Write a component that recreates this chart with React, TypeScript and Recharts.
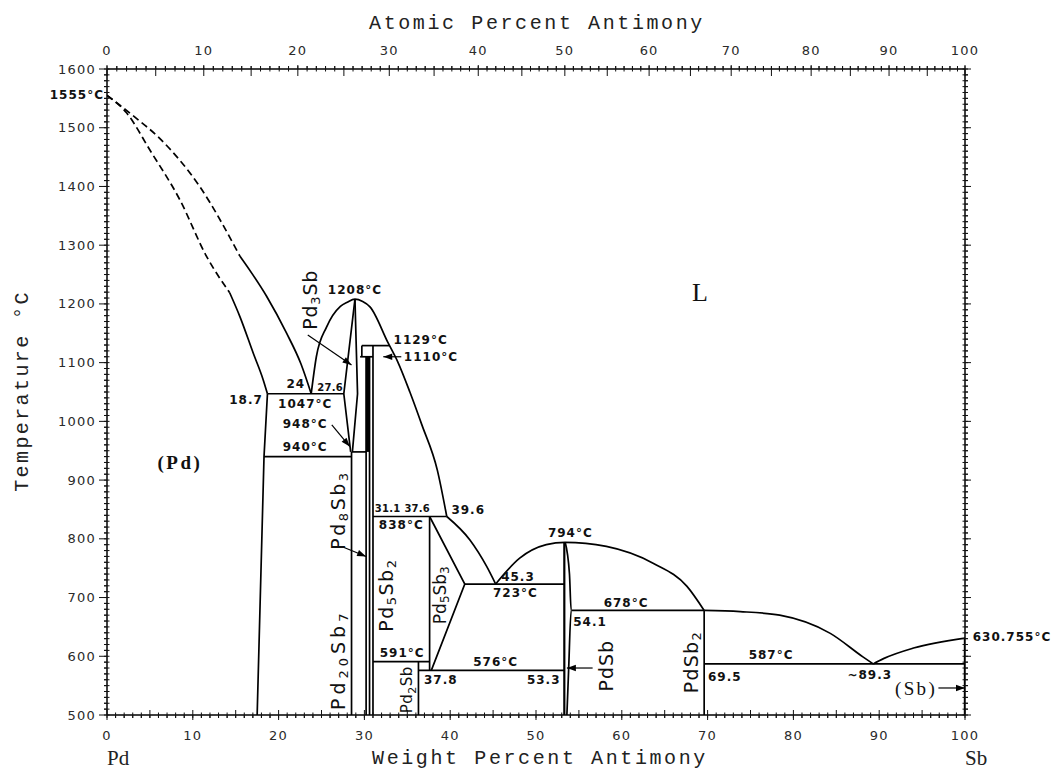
import React from 'react';
import { ComposedChart, Line, XAxis, YAxis, ReferenceDot } from 'recharts';

type Pt = { w: number; t: number };

const WIDTH = 1058;
const HEIGHT = 773;

// axes: weight % Sb below, atomic % Sb above, temperature °C at the sides
const WT_TICKS = Array.from({ length: 101 }, (_, i) => i);
const TEMP_TICKS = Array.from({ length: 111 }, (_, i) => 500 + i * 10);
const AT_PCT = Array.from({ length: 101 }, (_, i) => i);
const M_PD = 106.42;
const M_SB = 121.76;
const atToWt = (a: number) => (100 * a * M_SB) / (a * M_SB + (100 - a) * M_PD);
const AT_TICKS_WT = AT_PCT.map(atToWt);

// (Pd) side: liquidus / solidus, dashed near the Pd melting point
const pdLiquidusDashed: Pt[] = [
  { w: 0, t: 1555 }, { w: 3, t: 1521 }, { w: 6.2, t: 1481 }, { w: 10.8, t: 1400 }, { w: 15.5, t: 1281 },
];
const pdLiquidus: Pt[] = [
  { w: 15.5, t: 1281 }, { w: 18.6, t: 1213 }, { w: 20.9, t: 1151 }, { w: 22.6, t: 1098 }, { w: 23.8, t: 1047 },
];
const pdSolidusDashed: Pt[] = [
  { w: 0, t: 1555 }, { w: 2.3, t: 1525 }, { w: 5, t: 1462 }, { w: 8.5, t: 1377 }, { w: 11.6, t: 1281 }, { w: 14.3, t: 1219 },
];
const pdSolidus: Pt[] = [
  { w: 14.3, t: 1219 }, { w: 15.5, t: 1178 }, { w: 17.05, t: 1116 }, { w: 18.2, t: 1071 }, { w: 18.7, t: 1047 },
];
const pdSolvus: Pt[] = [{ w: 18.7, t: 1047 }, { w: 18.3, t: 940 }, { w: 17.5, t: 500 }];
const eut1047: Pt[] = [{ w: 18.7, t: 1047 }, { w: 27.6, t: 1047 }];
const eut940: Pt[] = [{ w: 18.3, t: 940 }, { w: 28.5, t: 940 }];

// Pd3Sb dome and the liquidus down to 838 °C
const pd3SbLiquidus: Pt[] = [
  { w: 23.8, t: 1047 }, { w: 24.4, t: 1110 }, { w: 25.6, t: 1161 }, { w: 27.2, t: 1196 }, { w: 28.0, t: 1203 },
  { w: 28.9, t: 1208 }, { w: 29.8, t: 1204 }, { w: 30.65, t: 1195 }, { w: 32.75, t: 1134 }, { w: 33.9, t: 1101 },
  { w: 35.3, t: 1050 }, { w: 36.7, t: 994 }, { w: 38.5, t: 917 }, { w: 39.6, t: 838 },
];
const pd3SbLeft: Pt[] = [{ w: 28.9, t: 1208 }, { w: 27.6, t: 1047 }, { w: 28.4, t: 948 }];
const pd3SbRight: Pt[] = [{ w: 28.9, t: 1208 }, { w: 29.2, t: 1047 }, { w: 28.6, t: 948 }];
const per1129: Pt[] = [{ w: 29.7, t: 1129 }, { w: 32.9, t: 1129 }];
const step1129: Pt[] = [{ w: 29.7, t: 1129 }, { w: 29.7, t: 1110 }];
const per1110: Pt[] = [{ w: 29.5, t: 1110 }, { w: 31.0, t: 1110 }];
const line948: Pt[] = [{ w: 28.5, t: 948 }, { w: 30.2, t: 948 }];
const pd20Sb7: Pt[] = [{ w: 28.5, t: 948 }, { w: 28.5, t: 500 }];
const pd8Sb3Left: Pt[] = [{ w: 30.2, t: 1110 }, { w: 30.2, t: 500 }];
const pd8Sb3Right: Pt[] = [{ w: 30.6, t: 1110 }, { w: 30.6, t: 500 }];
const pd8Sb3Band: Pt[] = [{ w: 30.4, t: 1110 }, { w: 30.4, t: 948 }];
const pd5Sb2Left: Pt[] = [{ w: 31.0, t: 1129 }, { w: 31.0, t: 500 }];

// Pd5Sb2 / Pd5Sb3 / Pd2Sb
const per838: Pt[] = [{ w: 31.0, t: 838 }, { w: 39.6, t: 838 }];
const pd5Sb2Right: Pt[] = [{ w: 37.6, t: 838 }, { w: 37.6, t: 576 }];
const line591: Pt[] = [{ w: 31.0, t: 591 }, { w: 37.6, t: 591 }];
const pd2Sb: Pt[] = [{ w: 36.3, t: 591 }, { w: 36.3, t: 500 }];
const line576: Pt[] = [{ w: 36.3, t: 576 }, { w: 53.3, t: 576 }];
const pd5Sb3: Pt[] = [{ w: 37.6, t: 838 }, { w: 41.7, t: 723 }, { w: 37.8, t: 576 }];
const eut723: Pt[] = [{ w: 41.7, t: 723 }, { w: 53.3, t: 723 }];
const liqTo723: Pt[] = [{ w: 39.6, t: 838 }, { w: 42.3, t: 798 }, { w: 44.25, t: 753 }, { w: 45.3, t: 723 }];

// PdSb dome, PdSb2, (Sb)
const pdSbLiquidus: Pt[] = [
  { w: 45.3, t: 723 }, { w: 48.1, t: 767 }, { w: 51.2, t: 790 }, { w: 53.4, t: 794 }, { w: 58.2, t: 787 },
  { w: 63.7, t: 758 }, { w: 67.6, t: 719 }, { w: 69.6, t: 678 },
];
const pdSbLeft: Pt[] = [{ w: 53.3, t: 794 }, { w: 53.3, t: 500 }];
const pdSbRight: Pt[] = [
  { w: 53.4, t: 794 }, { w: 53.9, t: 740 }, { w: 54.1, t: 678 }, { w: 53.8, t: 576 }, { w: 53.6, t: 500 },
];
const per678: Pt[] = [{ w: 54.1, t: 678 }, { w: 69.6, t: 678 }];
const pdSb2: Pt[] = [{ w: 69.6, t: 678 }, { w: 69.6, t: 500 }];
const liqTo587: Pt[] = [
  { w: 69.6, t: 678 }, { w: 73.8, t: 676 }, { w: 78.4, t: 670 }, { w: 84.3, t: 639 }, { w: 88.1, t: 599 }, { w: 89.3, t: 587 },
];
const sbLiquidus: Pt[] = [{ w: 89.3, t: 587 }, { w: 90.5, t: 596 }, { w: 94, t: 614 }, { w: 100, t: 631 }];
const eut587: Pt[] = [{ w: 69.6, t: 587 }, { w: 100, t: 587 }];
const sbSolid: Pt[] = [{ w: 100, t: 631 }, { w: 100, t: 500 }];

// leader arrows
const arrowPd3Sb: Pt[] = [{ w: 23.4, t: 1147 }, { w: 28.5, t: 1096 }];
const arrow948: Pt[] = [{ w: 26.2, t: 994 }, { w: 28.3, t: 957 }];
const arrow1110: Pt[] = [{ w: 34.3, t: 1110 }, { w: 32.2, t: 1110 }];
const arrowPd8Sb3: Pt[] = [{ w: 27.35, t: 787 }, { w: 30.2, t: 770 }];
const arrowPdSb: Pt[] = [{ w: 56.6, t: 580 }, { w: 53.6, t: 580 }];
const arrowSb: Pt[] = [{ w: 96.9, t: 546 }, { w: 100, t: 546 }];

const NUM: React.CSSProperties = { fontFamily: 'DejaVu Sans', fontSize: 13, fill: '#2a2a2a', letterSpacing: 1.2 };
const TITLE: React.CSSProperties = { fontFamily: 'Liberation Mono', fontSize: 20, fill: '#222', letterSpacing: 2.6 };
const TICK_STROKE = '#111';

const arrowDot = (props: any) => {
  const { cx, cy, index, points } = props;
  const n = points ? points.length : 0;
  if (!points || index !== n - 1) return <g key={`a${index}`} />;
  const p0 = points[n - 2];
  const ang = Math.atan2(cy - p0.y, cx - p0.x);
  const L = 9;
  const hw = 3.2;
  const bx = cx - L * Math.cos(ang);
  const by = cy - L * Math.sin(ang);
  const nx = -Math.sin(ang) * hw;
  const ny = Math.cos(ang) * hw;
  return <polygon key={`a${index}`} points={`${cx},${cy} ${bx + nx},${by + ny} ${bx - nx},${by - ny}`} fill="#000" />;
};

const seg = (id: string, data: Pt[], o: { curve?: any; width?: number; dash?: string; arrow?: boolean } = {}) => (
  <Line
    key={id}
    data={data}
    dataKey="t"
    xAxisId="b"
    yAxisId="l"
    type={o.curve ?? 'linear'}
    stroke="#000"
    strokeWidth={o.width ?? 1.7}
    strokeDasharray={o.dash}
    dot={o.arrow ? arrowDot : false}
    activeDot={false}
    legendType="none"
    isAnimationActive={false}
  />
);

type NoteOpts = { anchor?: 'start' | 'middle' | 'end'; rot?: boolean; phase?: boolean; size?: number; ls?: number; font?: string; bold?: boolean };

const renderText = (lp: any, text: string, o: NoteOpts) => {
  const vb = lp.viewBox || {};
  const x = (vb.x ?? 0) + (vb.width ?? 0) / 2;
  const y = (vb.y ?? 0) + (vb.height ?? 0) / 2;
  const size = o.size ?? (o.phase ? 19 : 12);
  const bold = o.bold ?? !o.phase;
  const style: React.CSSProperties = {
    fontFamily: o.font ?? 'DejaVu Sans',
    fontSize: size,
    fill: '#111',
    letterSpacing: o.ls ?? 1,
    fontWeight: bold ? 700 : 400,
  };
  const parts = o.phase ? text.split(/(\d+)/).filter((s) => s.length > 0) : [text];
  let shifted = false;
  return (
    <text
      x={x}
      y={y}
      textAnchor={o.anchor ?? 'middle'}
      dominantBaseline="central"
      transform={o.rot ? `rotate(-90 ${x} ${y})` : undefined}
      style={style}
    >
      {parts.map((p, i) => {
        const isNum = o.phase && /^\d+$/.test(p);
        let dy = 0;
        if (isNum && !shifted) { dy = 5; shifted = true; }
        else if (!isNum && shifted) { dy = -5; shifted = false; }
        return (
          <tspan key={i} dy={dy} fontSize={isNum ? Math.round(size * 0.7) : undefined}>{p}</tspan>
        );
      })}
    </text>
  );
};

const note = (text: string, w: number, t: number, o: NoteOpts = {}) => (
  <ReferenceDot
    key={`${text}-${w}-${t}`}
    xAxisId="b"
    yAxisId="l"
    x={w}
    y={t}
    r={0}
    fill="none"
    stroke="none"
    ifOverflow="visible"
    label={{ content: (lp: any) => renderText(lp, text, o) }}
  />
);

// tick renderers: Recharts draws a short outward tick; these add the inner / longer parts and labels
const BottomTick = (p: any) => {
  const { x, y, payload } = p;
  const v = Math.round(payload.value);
  const major = v % 10 === 0;
  const half = v % 5 === 0;
  const base = y - 3;
  return (
    <g>
      <path d={`M${x},${base - (half ? 5 : 2.5)}L${x},${base + (major ? 5 : 3)}`} stroke={TICK_STROKE} strokeWidth={1} fill="none" />
      {major && <text x={x} y={base + 20} dy="0.35em" textAnchor="middle" style={NUM}>{v}</text>}
    </g>
  );
};

const TopTick = (p: any) => {
  const { x, y, index } = p;
  const a = AT_PCT[index] ?? 0;
  const major = a % 10 === 0;
  const half = a % 5 === 0;
  const base = y + 3;
  return (
    <g>
      <path d={`M${x},${base - (major ? 4 : 3)}L${x},${base + (half ? 7 : 2.5)}`} stroke={TICK_STROKE} strokeWidth={1} fill="none" />
      {major && <text x={x} y={base - 19} dy="0.35em" textAnchor="middle" style={NUM}>{a}</text>}
    </g>
  );
};

const LeftTick = (p: any) => {
  const { x, y, payload } = p;
  const v = Math.round(payload.value);
  const major = v % 100 === 0;
  const base = x + 3;
  return (
    <g>
      <path d={`M${base - (major ? 8 : 3)},${y}L${base + 2.5},${y}`} stroke={TICK_STROKE} strokeWidth={1} fill="none" />
      {major && <text x={base - 11} y={y} dy="0.35em" textAnchor="end" style={NUM}>{v}</text>}
    </g>
  );
};

const RightTick = (p: any) => {
  const { x, y, payload } = p;
  const v = Math.round(payload.value);
  const major = v % 100 === 0;
  const base = x - 3;
  return <path d={`M${base - 2.5},${y}L${base + (major ? 6 : 3)},${y}`} stroke={TICK_STROKE} strokeWidth={1} fill="none" />;
};

const AXIS_LINE = { stroke: '#000', strokeWidth: 1.5 };
const TICK_LINE = { stroke: TICK_STROKE, strokeWidth: 1 };

export default function App() {
  return (
    <div style={{ position: 'absolute', left: 0, top: 0, width: WIDTH, height: HEIGHT, background: '#fff' }}>
      <ComposedChart width={WIDTH} height={HEIGHT} margin={{ top: 0, right: 0, bottom: 0, left: 0 }}>
        <XAxis
          xAxisId="b"
          dataKey="w"
          type="number"
          orientation="bottom"
          domain={[0, 100]}
          allowDataOverflow
          ticks={WT_TICKS}
          interval={0}
          height={58}
          tickSize={3}
          tickMargin={0}
          tickLine={TICK_LINE}
          axisLine={AXIS_LINE}
          tick={BottomTick}
        />
        <XAxis
          xAxisId="t"
          dataKey="w"
          type="number"
          orientation="top"
          domain={[0, 100]}
          allowDataOverflow
          ticks={AT_TICKS_WT}
          interval={0}
          height={69}
          tickSize={3}
          tickMargin={0}
          tickLine={TICK_LINE}
          axisLine={AXIS_LINE}
          tick={TopTick}
        />
        <YAxis
          yAxisId="l"
          type="number"
          orientation="left"
          domain={[500, 1600]}
          allowDataOverflow
          ticks={TEMP_TICKS}
          interval={0}
          width={107}
          tickSize={3}
          tickMargin={0}
          tickLine={TICK_LINE}
          axisLine={AXIS_LINE}
          tick={LeftTick}
        />
        <YAxis
          yAxisId="r"
          type="number"
          orientation="right"
          domain={[500, 1600]}
          allowDataOverflow
          ticks={TEMP_TICKS}
          interval={0}
          width={93}
          tickSize={3}
          tickMargin={0}
          tickLine={TICK_LINE}
          axisLine={AXIS_LINE}
          tick={RightTick}
        />

        {seg('pdLiqD', pdLiquidusDashed, { curve: 'monotone', dash: '7 4' })}
        {seg('pdSolD', pdSolidusDashed, { curve: 'monotone', dash: '7 4' })}
        {seg('pdLiq', pdLiquidus, { curve: 'monotone' })}
        {seg('pdSol', pdSolidus, { curve: 'monotone' })}
        {seg('pdSolvus', pdSolvus)}
        {seg('e1047', eut1047)}
        {seg('e940', eut940)}
        {seg('pd3SbLiq', pd3SbLiquidus, { curve: 'monotone' })}
        {seg('pd3SbL', pd3SbLeft)}
        {seg('pd3SbR', pd3SbRight)}
        {seg('p1129', per1129)}
        {seg('s1129', step1129)}
        {seg('p1110', per1110)}
        {seg('l948', line948)}
        {seg('pd20Sb7', pd20Sb7)}
        {seg('pd8Sb3L', pd8Sb3Left)}
        {seg('pd8Sb3R', pd8Sb3Right)}
        {seg('pd8Sb3B', pd8Sb3Band, { width: 4 })}
        {seg('pd5Sb2L', pd5Sb2Left)}
        {seg('p838', per838)}
        {seg('pd5Sb2R', pd5Sb2Right)}
        {seg('l591', line591)}
        {seg('pd2Sb', pd2Sb)}
        {seg('l576', line576)}
        {seg('pd5Sb3', pd5Sb3)}
        {seg('e723', eut723)}
        {seg('liq723', liqTo723, { curve: 'monotone' })}
        {seg('pdSbLiq', pdSbLiquidus, { curve: 'monotone' })}
        {seg('pdSbL', pdSbLeft, { width: 2.2 })}
        {seg('pdSbR', pdSbRight, { curve: 'monotone' })}
        {seg('p678', per678)}
        {seg('pdSb2', pdSb2)}
        {seg('liq587', liqTo587, { curve: 'monotone' })}
        {seg('sbLiq', sbLiquidus, { curve: 'monotone' })}
        {seg('e587', eut587)}
        {seg('sb', sbSolid, { width: 2.4 })}

        {seg('aPd3Sb', arrowPd3Sb, { width: 1.2, arrow: true })}
        {seg('a948', arrow948, { width: 1.2, arrow: true })}
        {seg('a1110', arrow1110, { width: 1.2, arrow: true })}
        {seg('aPd8Sb3', arrowPd8Sb3, { width: 1.2, arrow: true })}
        {seg('aPdSb', arrowPdSb, { width: 1.2, arrow: true })}
        {seg('aSb', arrowSb, { width: 1.2, arrow: true })}

        {note('1555°C', -0.35, 1555, { anchor: 'end' })}
        {note('1208°C', 28.9, 1224)}
        {note('1129°C', 33.4, 1139, { anchor: 'start' })}
        {note('1110°C', 34.6, 1110, { anchor: 'start' })}
        {note('24', 22.0, 1064)}
        {note('27.6', 26.0, 1059, { size: 10, ls: 0.3 })}
        {note('18.7', 16.2, 1037)}
        {note('1047°C', 23.1, 1030)}
        {note('948°C', 23.1, 996)}
        {note('940°C', 23.1, 957)}
        {note('31.1', 32.7, 853, { size: 10, ls: 0.2 })}
        {note('37.6', 36.15, 853, { size: 10, ls: 0.2 })}
        {note('39.6', 42.1, 849)}
        {note('838°C', 34.3, 824)}
        {note('591°C', 34.4, 606)}
        {note('37.8', 38.9, 560)}
        {note('576°C', 45.3, 590)}
        {note('45.3', 47.9, 735)}
        {note('723°C', 47.6, 708)}
        {note('794°C', 54.0, 810)}
        {note('678°C', 60.5, 691)}
        {note('54.1', 56.3, 658)}
        {note('53.3', 50.9, 560)}
        {note('587°C', 77.4, 602)}
        {note('69.5', 72.0, 565)}
        {note('~89.3', 88.9, 568)}
        {note('630.755°C', 100.9, 633, { anchor: 'start' })}

        {note('Pd3Sb', 23.7, 1207, { phase: true, rot: true, ls: 0.8 })}
        {note('Pd8Sb3', 26.9, 849, { phase: true, rot: true, ls: 2.5 })}
        {note('Pd20Sb7', 26.9, 594, { phase: true, rot: true, ls: 4 })}
        {note('Pd5Sb2', 32.5, 704, { phase: true, rot: true, ls: 1.5 })}
        {note('Pd5Sb3', 38.8, 704, { phase: true, rot: true, size: 17, ls: 0 })}
        {note('Pd2Sb', 35.0, 543, { phase: true, rot: true, size: 15, ls: 0.5 })}
        {note('PdSb', 58.2, 584, { phase: true, rot: true, ls: 1 })}
        {note('PdSb2', 68.1, 590, { phase: true, rot: true, ls: 1.3 })}

        {note('(Pd)', 8.5, 931, { font: 'Liberation Serif', size: 19, bold: true, ls: 2.5 })}
        {note('(Sb)', 94.3, 546, { font: 'Liberation Serif', size: 19, bold: false, ls: 2.4 })}
        {note('L', 69.1, 1221, { font: 'Liberation Serif', size: 26, bold: false, ls: 0 })}
      </ComposedChart>

      <svg width={WIDTH} height={HEIGHT} style={{ position: 'absolute', left: 0, top: 0, pointerEvents: 'none' }}>
        <text x={537} y={23} dominantBaseline="central" textAnchor="middle" style={TITLE}>Atomic Percent Antimony</text>
        <text x={540} y={758} dominantBaseline="central" textAnchor="middle" style={TITLE}>Weight Percent Antimony</text>
        <text
          x={22}
          y={391}
          dominantBaseline="central"
          textAnchor="middle"
          transform="rotate(-90 22 391)"
          style={{ ...TITLE, letterSpacing: 2.4 }}
        >
          Temperature °C
        </text>
        <text x={107} y={758} dominantBaseline="central" style={{ fontFamily: 'Liberation Serif', fontSize: 21, fill: '#222' }}>Pd</text>
        <text x={965} y={758} dominantBaseline="central" style={{ fontFamily: 'Liberation Serif', fontSize: 21, fill: '#222' }}>Sb</text>
      </svg>
    </div>
  );
}
